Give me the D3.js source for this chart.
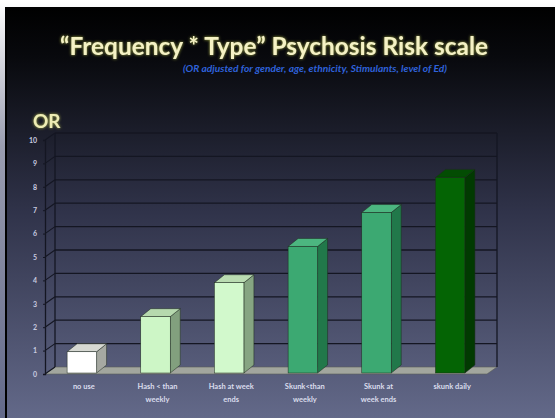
<!DOCTYPE html>
<html>
<head>
<meta charset="utf-8">
<script src="https://cdn.jsdelivr.net/npm/d3@7"></script>
<style>
  html, body { margin: 0; padding: 0; background: #ffffff; }
  svg { display: block; }
</style>
</head>
<body>
<svg id="chart" width="555" height="418"></svg>
<script>
// Odds ratios by cannabis use pattern
const categories = [
  ["no use"],
  ["Hash < than", "weekly"],
  ["Hash at week", "ends"],
  ["Skunk<than", "weekly"],
  ["Skunk at", "week ends"],
  ["skunk daily"]
];
const orValues = [0.95, 2.45, 3.9, 5.45, 6.9, 8.4];
const yTicks = [0, 1, 2, 3, 4, 5, 6, 7, 8, 9, 10];
const titleText = "\u201CFrequency * Type\u201D Psychosis Risk scale";
const subtitleText = "(OR adjusted for gender, age, ethnicity, Stimulants, level of Ed)";
const axisTitle = "OR";

// bar face colours: [front, side, top]
const barColors = [
  ["#ffffff", "#a6a9a2", "#d6d8d2"],
  ["#cdf6c6", "#82a07e", "#b6d9ae"],
  ["#d2f9cc", "#86a582", "#badcb2"],
  ["#3ca972", "#21784a", "#4cb680"],
  ["#3ca972", "#21784a", "#4cb680"],
  ["#046404", "#013a01", "#034c03"]
];

const svg = d3.select("#chart");
const W = 555, H = 418;

const defs = svg.append("defs");
const bg = defs.append("linearGradient").attr("id", "bg")
  .attr("x1", 0).attr("y1", 0).attr("x2", 0).attr("y2", 1);
bg.append("stop").attr("offset", "0").attr("stop-color", "#000000");
bg.append("stop").attr("offset", "0.12").attr("stop-color", "#08090d");
bg.append("stop").attr("offset", "0.5").attr("stop-color", "#30334a");
bg.append("stop").attr("offset", "1").attr("stop-color", "#636989");

const edge = defs.append("linearGradient").attr("id", "edge")
  .attr("x1", 0).attr("y1", 0).attr("x2", 0).attr("y2", 1);
edge.append("stop").attr("offset", "0").attr("stop-color", "#ffffff");
edge.append("stop").attr("offset", "0.35").attr("stop-color", "#9a9db0");
edge.append("stop").attr("offset", "1").attr("stop-color", "#636989");

const glow = defs.append("filter").attr("id", "glow")
  .attr("x", "-10%").attr("y", "-40%").attr("width", "120%").attr("height", "180%");
glow.append("feGaussianBlur").attr("in", "SourceAlpha").attr("stdDeviation", 1.4).attr("result", "b");
glow.append("feFlood").attr("flood-color", "#b9c24a").attr("flood-opacity", 0.9);
glow.append("feComposite").attr("in2", "b").attr("operator", "in").attr("result", "g");
const gm = glow.append("feMerge");
gm.append("feMergeNode").attr("in", "g");
gm.append("feMergeNode").attr("in", "SourceGraphic");

// slide background
svg.append("rect").attr("x", 0).attr("y", 0).attr("width", W).attr("height", H).attr("fill", "url(#edge)");
svg.append("rect").attr("x", 6).attr("y", 7).attr("width", W - 6).attr("height", H - 7).attr("fill", "url(#bg)");
svg.append("rect").attr("x", 5).attr("y", 7).attr("width", 2).attr("height", H - 7).attr("fill", "#000");

// titles
svg.append("text")
  .attr("x", 274).attr("y", 55)
  .attr("text-anchor", "middle")
  .attr("textLength", 428).attr("lengthAdjust", "spacingAndGlyphs")
  .style("font-family", "Lato, 'Open Sans', sans-serif")
  .style("font-weight", 700).style("font-size", "25px")
  .attr("fill", "#f5f2c4").attr("filter", "url(#glow)")
  .text(titleText);

svg.append("text")
  .attr("x", 315).attr("y", 72)
  .attr("text-anchor", "middle")
  .attr("textLength", 264).attr("lengthAdjust", "spacingAndGlyphs")
  .style("font-family", "Lato, 'Open Sans', sans-serif")
  .style("font-style", "italic").style("font-weight", 700).style("font-size", "8.5px")
  .attr("fill", "#2f62da")
  .text(subtitleText);

svg.append("text")
  .attr("x", 33).attr("y", 128)
  .style("font-family", "Lato, 'Open Sans', sans-serif")
  .style("font-weight", 700).style("font-size", "19px")
  .attr("fill", "#eeedb4").attr("filter", "url(#glow)")
  .text(axisTitle);

// scales (front plane) and depth offset for the 3-D walls
const x = d3.scaleBand().domain(d3.range(categories.length)).range([45, 487]).paddingInner(0.6).paddingOuter(0.3);
const y = d3.scaleLinear().domain([0, 10]).range([374, 140]);
const DX = 10, DY = -7;      // wall depth
const BDX = 10, BDY = -8;    // bar depth

const gridColor = "#141622";
const x0 = 45, x1 = 487;

// floor
svg.append("polygon")
  .attr("points", [[x0, y(0)], [x1, y(0)], [x1 + DX, y(0) + DY], [x0 + DX, y(0) + DY]].map(p => p.join(",")).join(" "))
  .attr("fill", "#a2a69e").attr("stroke", "#5a5e58").attr("stroke-width", 0.6);

// back-wall gridlines and side-wall diagonals
const grid = svg.append("g");
grid.selectAll("line.h").data(yTicks.filter(d => d > 0)).join("line")
  .attr("x1", x0 + DX).attr("x2", x1 + DX)
  .attr("y1", d => y(d) + DY).attr("y2", d => y(d) + DY)
  .attr("stroke", gridColor).attr("stroke-width", 1.3);
grid.selectAll("line.d").data(yTicks).join("line")
  .attr("x1", x0).attr("y1", d => y(d))
  .attr("x2", x0 + DX).attr("y2", d => y(d) + DY)
  .attr("stroke", gridColor).attr("stroke-width", 1.1);
grid.append("line").attr("x1", x0 + DX).attr("x2", x0 + DX)
  .attr("y1", y(0) + DY).attr("y2", y(10) + DY).attr("stroke", gridColor).attr("stroke-width", 1.3);
grid.append("line").attr("x1", x1 + DX).attr("x2", x1 + DX)
  .attr("y1", y(0) + DY).attr("y2", y(10) + DY).attr("stroke", gridColor).attr("stroke-width", 1.3);

// front value axis
const yAxis = d3.axisLeft(y).tickValues(yTicks).tickSize(2).tickPadding(6);
const ya = svg.append("g").attr("transform", `translate(${x0},0)`).call(yAxis);
ya.select(".domain").attr("stroke", gridColor).attr("stroke-width", 1.3);
ya.selectAll(".tick line").attr("stroke", gridColor);
ya.selectAll(".tick text")
  .attr("fill", "#c9cce0")
  .style("font-family", "Lato, 'Open Sans', sans-serif")
  .style("font-weight", 700).style("font-size", "7px");

// 3-D bars
const bars = svg.append("g").selectAll("g").data(orValues).join("g");
const pts = a => a.map(p => p.join(",")).join(" ");
bars.each(function (v, i) {
  const g = d3.select(this);
  const bx = x(i), bw = x.bandwidth(), top = y(v), base = y(0) - 1;
  const [cf, cs, ct] = barColors[i];
  g.append("polygon")
    .attr("points", pts([[bx + bw, base], [bx + bw + BDX, base + BDY], [bx + bw + BDX, top + BDY], [bx + bw, top]]))
    .attr("fill", cs).attr("stroke", "#1f2a1f").attr("stroke-width", 0.5);
  g.append("polygon")
    .attr("points", pts([[bx, top], [bx + BDX, top + BDY], [bx + bw + BDX, top + BDY], [bx + bw, top]]))
    .attr("fill", ct).attr("stroke", "#1f2a1f").attr("stroke-width", 0.5);
  g.append("rect")
    .attr("x", bx).attr("y", top).attr("width", bw).attr("height", base - top)
    .attr("fill", cf).attr("stroke", "#1f2a1f").attr("stroke-width", 0.5);
});

// category labels
const labels = svg.append("g").selectAll("text").data(categories).join("text")
  .attr("x", (d, i) => x(i) + x.bandwidth() / 2 + 2)
  .attr("y", 389)
  .attr("text-anchor", "middle")
  .style("font-family", "Lato, 'Open Sans', sans-serif")
  .style("font-weight", 700).style("font-size", "7.5px")
  .attr("fill", "#dadded");
labels.selectAll("tspan").data(d => d).join("tspan")
  .attr("x", function () { return d3.select(this.parentNode).attr("x"); })
  .attr("dy", (d, j) => j === 0 ? 0 : 13)
  .text(d => d);
</script>
</body>
</html>
